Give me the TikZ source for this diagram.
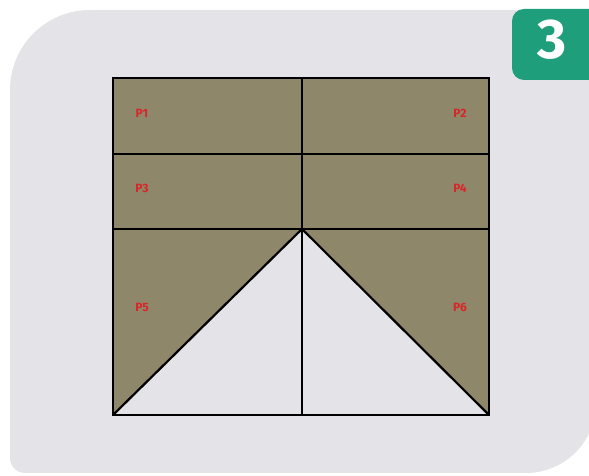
\documentclass[tikz,border=0pt]{standalone}
\usepackage{fontspec}
\setmainfont{Fira Sans}
\usepackage{xcolor}
\usepackage{tikz}
\usetikzlibrary{positioning,calc}

\definecolor{bggray}{HTML}{E4E4E8}
\definecolor{panel}{HTML}{8F8769}
\definecolor{badgegreen}{HTML}{1E9E7B}
\definecolor{labred}{HTML}{D8262A}

\begin{document}
\begin{tikzpicture}[
					x=1pt, y=1pt,
					frame/.style={line width=2.4pt, line cap=rect},
					grid_line/.style={line width=1.5pt},
					roof/.style={line width=2.2pt, line cap=round},
					plabel/.style={
						font=\fontsize{12}{12}\selectfont\bfseries, text=labred, inner sep=0pt
					},
					badge_text/.style={
						font=\fontsize{56}{56}\selectfont\bfseries, text=white, inner sep=0pt
					}
					]
					\useasboundingbox (0,0) rectangle (589,476);
					
					% --- background card ---
					\begin{scope}
						\clip (0,0) rectangle (589,476);
						\fill[bggray] (10,18) -- (10,386) arc[start angle=180, end angle=90, radius=80]
							-- (596,466) -- (596,73) arc[start angle=0, end angle=-90, radius=70]
							-- (25,3) arc[start angle=270, end angle=180, radius=15] -- cycle;
						\fill[badgegreen, rounded corners=12pt] (512,396) rectangle (620,467);
					\end{scope}
					\node[badge_text] (num) at (552,436) {3};
					
					% --- corner points ---
					\coordinate (tl) at (113,398);
					\coordinate (tr) at (489,398);
					\coordinate (bl) at (113,61);
					\coordinate (br) at (489,61);
					\coordinate (tm) at (302,398);
					\coordinate (bm) at (302,61);
					\coordinate (l1) at (113,322);
					\coordinate (r1) at (489,322);
					\coordinate (l2) at (113,247);
					\coordinate (r2) at (489,247);
					\coordinate (apex) at (302,247);
					
					% --- panels ---
					\fill[panel] (bl) -- (tl) -- (tr) -- (br) -- (apex) -- cycle;
					
					% --- lines ---
					\draw[grid_line] (l1) -- (r1);
					\draw[grid_line] (l2) -- (r2);
					\draw[grid_line] (tm) -- (bm);
					\draw[roof] (bl) -- (apex) -- (br);
					\draw[frame] (bl) -- (tl) -- (tr) -- (br) -- cycle;
					
					% --- labels ---
					\node[plabel] (p1) at (142,363) {P1};
					\node[plabel] (p2) at (460,363) {P2};
					\node[plabel] (p3) at (142,288) {P3};
					\node[plabel] (p4) at (460,288) {P4};
					\node[plabel] (p5) at (142,169) {P5};
					\node[plabel] (p6) at (460,169) {P6};
					
				\end{tikzpicture}
\end{document}
